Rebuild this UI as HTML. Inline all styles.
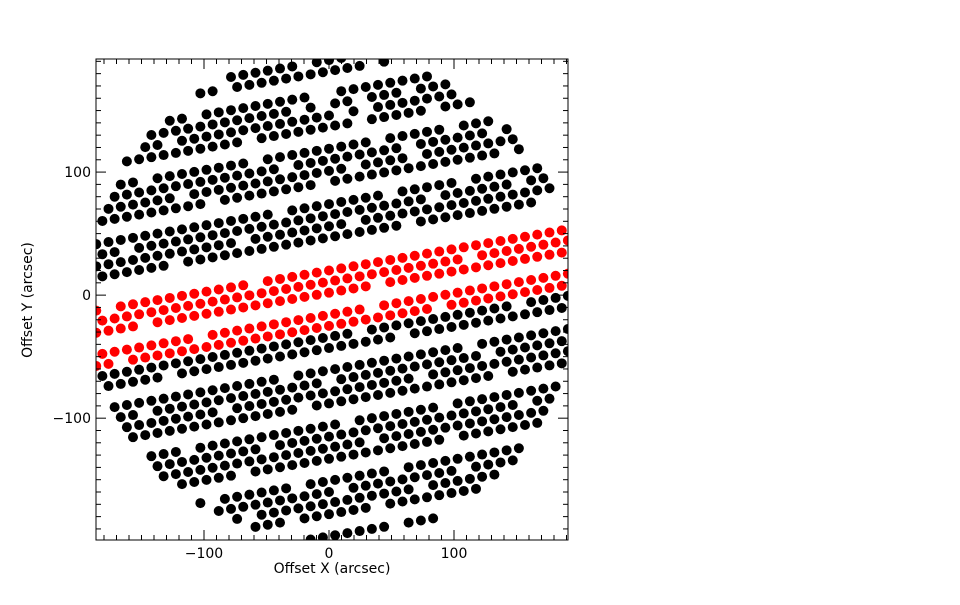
<!DOCTYPE html>
<html><head><meta charset="utf-8"><style>
body{margin:0;background:#fff;width:960px;height:600px;overflow:hidden}
svg text{font-family:"DejaVu Sans","Liberation Sans",sans-serif;font-size:14px;fill:#000}
</style></head><body>
<svg id="chart" width="960" height="600">
<g id="dots"></g>
<rect x="96" y="59" width="472" height="481" fill="none" stroke="#000" stroke-width="1"/>
<g id="axes"></g>
<text x="332" y="573" text-anchor="middle">Offset X (arcsec)</text>
<text transform="translate(32,300) rotate(-90)" text-anchor="middle">Offset Y (arcsec)</text>
</svg>
<script>
const rowIntercepts=[191,182,164,155,146,137,119,110,101,92,74,65,56,47,20,11,2,-16,-25,-34,-43,-61,-70,-79,-88,-106,-115,-124,-133,-151,-160,-169,-178,-196,-205];
const redRows=[20,11,2,-16,-25];
const rowSlope=[0.175];
const dotSpacing=[9.8];
const fieldRadius=[198];
const fieldCenter=[0,-3];
const missing=[[191,-20],[182,-80],[182,30],[164,-110],[164,-10],[164,0],[164,90],[155,-20],[155,0],[155,20],[155,60],[146,-130],[146,10],[146,30],[146,110],[137,-60],[137,20],[137,80],[137,120],[119,-150],[119,-60],[119,40],[119,100],[110,-30],[110,60],[110,130],[101,-120],[101,20],[101,70],[92,-90],[92,0],[92,140],[74,-40],[74,50],[74,110],[65,-160],[65,80],[65,150],[56,-70],[56,20],[47,-120],[47,60],[47,170],[20,-180],[20,-60],[11,110],[2,-150],[2,40],[-16,-100],[-16,30],[-25,-170],[-25,90],[-34,20],[-34,150],[-43,-130],[-43,60],[-61,-30],[-61,110],[-70,-150],[-70,0],[-70,130],[-79,70],[-79,-80],[-88,-20],[-88,140],[-106,-110],[-106,10],[-106,90],[-115,-50],[-115,160],[-124,-140],[-124,30],[-133,100],[-133,-70],[-151,-90],[-151,-20],[-151,50],[-160,10],[-160,110],[-169,-60],[-169,70],[-178,-30],[-178,40],[-196,-40],[-196,50]];
const xTicks=[-100,0,100];
const yTicks=[-100,0,100];
const xMin=-186.4,xMax=191.2,yMin=-199,yMax=191.9;
const X0=96,X1=568,Y0=540,Y1=59;
function sx(v){return X0+(v-xMin)/(xMax-xMin)*(X1-X0);}
function sy(v){return Y0-(v-yMin)/(yMax-yMin)*(Y0-Y1);}
const NS='http://www.w3.org/2000/svg';
const dg=document.getElementById('dots');
rowIntercepts.forEach((b,i)=>{
  const off=(i%2)*dotSpacing[0]/2;
  const col=redRows.includes(b)?'#ff0000':'#000000';
  for(let x=-205.8+off;x<=205;x+=dotSpacing[0]){
    const y=b+rowSlope[0]*x;
    const dx=x-fieldCenter[0],dy=y-fieldCenter[1];
    if(dx*dx+dy*dy>fieldRadius[0]*fieldRadius[0])continue;
    if(x<xMin-3||x>xMax+3||y<yMin-3||y>yMax+3)continue;
    if(missing.some(m=>m[0]===b&&Math.abs(m[1]-x)<dotSpacing[0]/2))continue;
    const c=document.createElementNS(NS,'circle');
    c.setAttribute('cx',sx(x));c.setAttribute('cy',sy(y));c.setAttribute('r',5);c.setAttribute('fill',col);
    
    
    dg.appendChild(c);
  }
});
const cp=document.createElementNS(NS,'clipPath');cp.id='clip';
const cr=document.createElementNS(NS,'rect');cr.setAttribute('x',X0);cr.setAttribute('y',Y1);cr.setAttribute('width',X1-X0);cr.setAttribute('height',Y0-Y1);
cp.appendChild(cr);document.getElementById('chart').prepend(cp);dg.setAttribute('clip-path','url(#clip)');
const ax=document.getElementById('axes');
function line(x1,y1,x2,y2,name){const l=document.createElementNS(NS,'line');l.setAttribute('x1',x1);l.setAttribute('y1',y1);l.setAttribute('x2',x2);l.setAttribute('y2',y2);l.setAttribute('stroke','#000');


ax.appendChild(l);}
for(let v=-180;v<=190;v+=10){const x=sx(v);const L=(v%100===0)?10:5;line(x,Y0,x,Y0-L,'x-tick');line(x,Y1,x,Y1+L,'x-tick-top');}
for(let v=-190;v<=190;v+=10){const y=sy(v);const L=(v%100===0)?10:5;line(X0,y,X0+L,y,'y-tick');line(X1,y,X1-L,y,'y-tick-right');}
xTicks.forEach(v=>{const t=document.createElementNS(NS,'text');t.setAttribute('x',sx(v));t.setAttribute('y',558);t.setAttribute('text-anchor','middle');t.textContent=v<0?'\u2212'+(-v):String(v);


ax.appendChild(t);});
yTicks.forEach(v=>{const t=document.createElementNS(NS,'text');t.setAttribute('x',91);t.setAttribute('y',sy(v)+5);t.setAttribute('text-anchor','end');t.textContent=v<0?'\u2212'+(-v):String(v);


ax.appendChild(t);});
</script>
</body></html>
